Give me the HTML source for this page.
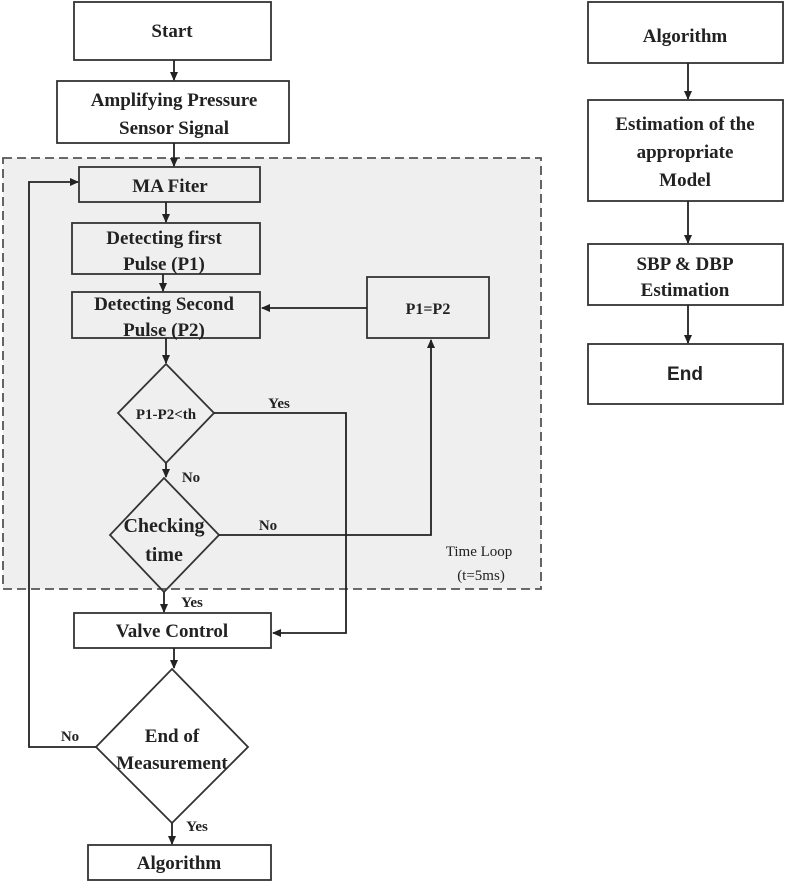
<!DOCTYPE html>
<html><head><meta charset="utf-8"><style>
body{margin:0;background:#fff}
svg{display:block}
text{font-family:"Liberation Serif",serif;font-weight:bold;fill:#222;text-anchor:middle}
text.n{font-weight:normal}
</style></head><body>
<svg width="790" height="888" viewBox="0 0 790 888">
<defs><marker id="a" markerWidth="10" markerHeight="10" refX="8" refY="4" orient="auto" markerUnits="userSpaceOnUse"><path d="M0,0 L9,4 L0,8 z" fill="#222"/></marker></defs>
<g stroke="#333" stroke-width="1.8" fill="none">
<rect x="3" y="158" width="538" height="431" fill="#efefef" stroke="#555" stroke-dasharray="9,5"/>
<rect x="74" y="2" width="197" height="58" fill="#fff"/>
<rect x="57" y="81" width="232" height="62" fill="#fff"/>
<rect x="79" y="167" width="181" height="35"/>
<rect x="72" y="223" width="188" height="51"/>
<rect x="72" y="292" width="188" height="46"/>
<rect x="367" y="277" width="122" height="61"/>
<polygon points="166,364 214,413 166,463 118,413"/>
<polygon points="164,478 219,535 164,592 110,535"/>
<rect x="74" y="613" width="197" height="35" fill="#fff"/>
<polygon points="172,669 248,747 172,823 96,747" fill="#fff"/>
<rect x="88" y="845" width="183" height="35" fill="#fff"/>
<rect x="588" y="2" width="195" height="61" fill="#fff"/>
<rect x="588" y="100" width="195" height="101" fill="#fff"/>
<rect x="588" y="244" width="195" height="61" fill="#fff"/>
<rect x="588" y="344" width="195" height="60" fill="#fff"/>
<g stroke="#222" marker-end="url(#a)">
<line x1="174" y1="60" x2="174" y2="80"/>
<line x1="174" y1="143" x2="174" y2="166"/>
<line x1="166" y1="202" x2="166" y2="222"/>
<line x1="163" y1="274" x2="163" y2="291"/>
<line x1="166" y1="338" x2="166" y2="363"/>
<line x1="166" y1="463" x2="166" y2="477"/>
<line x1="164" y1="592" x2="164" y2="612"/>
<line x1="174" y1="648" x2="174" y2="668"/>
<line x1="172" y1="823" x2="172" y2="844"/>
<line x1="367" y1="308" x2="262" y2="308"/>
<polyline points="214,413 346,413 346,633 273,633"/>
<polyline points="219,535 431,535 431,340"/>
<polyline points="96,747 29,747 29,182 78,182"/>
<line x1="688" y1="63" x2="688" y2="99"/>
<line x1="688" y1="201" x2="688" y2="243"/>
<line x1="688" y1="305" x2="688" y2="343"/>
</g></g>
<g font-size="19">
<text x="172" y="37">Start</text>
<text x="174" y="106">Amplifying Pressure</text>
<text x="174" y="134">Sensor Signal</text>
<text x="170" y="192">MA Fiter</text>
<text x="164" y="244">Detecting first</text>
<text x="164" y="270">Pulse (P1)</text>
<text x="164" y="310">Detecting Second</text>
<text x="164" y="336">Pulse (P2)</text>
<text x="428" y="314" font-size="16">P1=P2</text>
<text x="166" y="419" font-size="15">P1-P2&lt;th</text>
<text x="164" y="532" font-size="20">Checking</text>
<text x="164" y="561" font-size="20">time</text>
<text x="172" y="637">Valve Control</text>
<text x="172" y="742">End of</text>
<text x="172" y="769">Measurement</text>
<text x="179" y="869">Algorithm</text>
<text x="685" y="42">Algorithm</text>
<text x="685" y="130">Estimation of the</text>
<text x="685" y="158">appropriate</text>
<text x="685" y="186">Model</text>
<text x="685" y="270">SBP &amp; DBP</text>
<text x="685" y="296">Estimation</text>
<text x="685" y="380" style="font-family:'Liberation Sans',sans-serif">End</text>
</g>
<g font-size="15">
<text x="279" y="408">Yes</text>
<text x="191" y="482">No</text>
<text x="268" y="530">No</text>
<text x="192" y="607">Yes</text>
<text x="70" y="741">No</text>
<text x="197" y="831">Yes</text>
</g>
<g font-size="15">
<text class="n" x="479" y="556">Time Loop</text>
<text class="n" x="481" y="580">(t=5ms)</text>
</g>
</svg>
</body></html>
